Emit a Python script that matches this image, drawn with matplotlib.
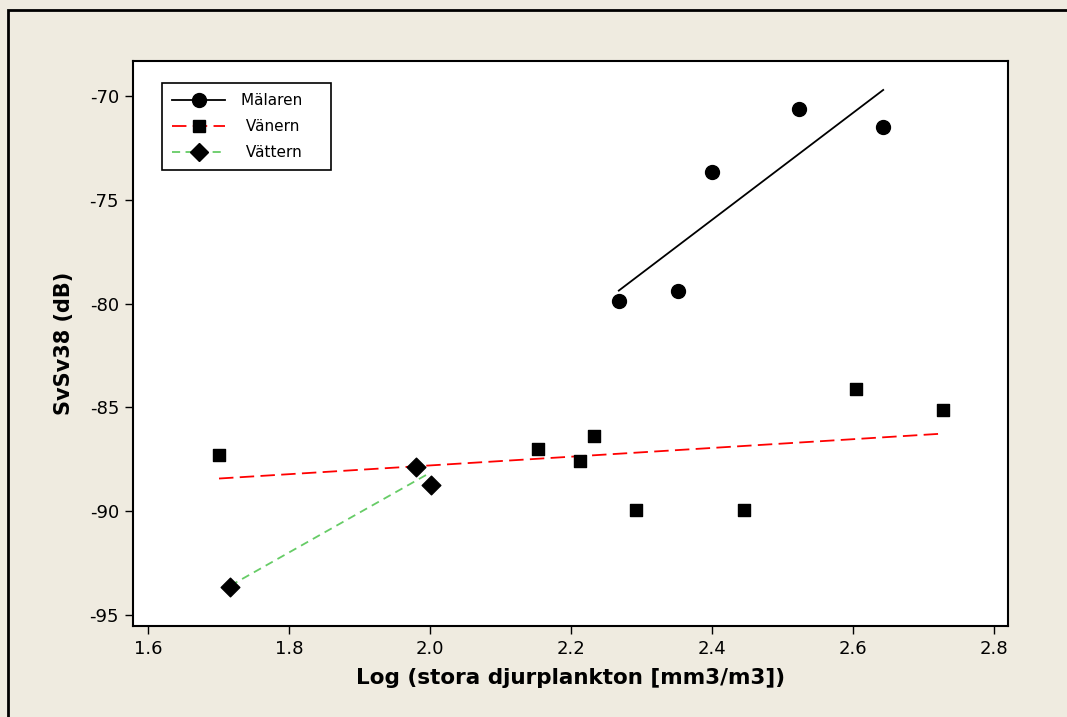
#!/usr/bin/env python3
import numpy as np
import matplotlib
matplotlib.use("Agg")
import matplotlib.pyplot as plt
from matplotlib.patches import Rectangle

# values
malaren_x = [2.268, 2.352, 2.400, 2.524, 2.643]
malaren_y = [-79.86, -79.40, -73.65, -70.60, -71.50]

vanern_x = [1.701, 2.153, 2.213, 2.233, 2.292, 2.446, 2.605, 2.728]
vanern_y = [-87.30, -87.00, -87.60, -86.40, -89.95, -89.95, -84.10, -85.15]

vattern_x = [1.717, 1.981, 2.001]
vattern_y = [-93.65, -87.88, -88.75]

x_ticks = [1.6, 1.8, 2.0, 2.2, 2.4, 2.6, 2.8]
y_ticks = [-95, -90, -85, -80, -75, -70]

BG = "#EFEBE0"

SERIES = [
    ("Mälaren    ", malaren_x, malaren_y, "o", 10, "black", "-"),
    (" Vänern    ", vanern_x, vanern_y, "s", 8.5, "#FF0000", (0, (8, 3.5))),
    (" Vättern   ", vattern_x, vattern_y, "D", 9.5, "#66CC66", (0, (4.5, 3))),
]

plt.rcParams["axes.unicode_minus"] = False


def fit_line(xs, ys):
    xs = np.asarray(xs)
    k, m = np.polyfit(xs, ys, 1)
    xx = np.array([xs.min(), xs.max()])
    return xx, k * xx + m


def main():
    fig = plt.figure(figsize=(10.67, 7.17), dpi=100, facecolor=BG)
    fig.patches.append(Rectangle((8 / 1067, -0.1), 1.2, 1.1 - 10 / 717,
                                 transform=fig.transFigure, fill=False,
                                 edgecolor="black", linewidth=2, zorder=0))
    ax = fig.add_axes([133 / 1067, 1 - 626 / 717, 875 / 1067, 565 / 717])
    ax.set_facecolor("white")

    handles = []
    for label, xs, ys, marker, ms, color, ls in SERIES:
        ax.scatter(xs, ys, marker=marker, s=ms ** 2, color="black", zorder=3)
        fx, fy = fit_line(xs, ys)
        ax.plot(fx, fy, color=color, linestyle=ls, linewidth=1.3, zorder=2)
        h, = ax.plot([], [], color=color, linestyle=ls, linewidth=1.3,
                     marker=marker, markersize=ms, markerfacecolor="black",
                     markeredgecolor="black", label=label)
        handles.append(h)

    ax.set_xlim(1.579, 2.82)
    ax.set_ylim(-95.55, -68.3)
    ax.set_xticks(x_ticks)
    ax.set_xticklabels([f"{v:.1f}" for v in x_ticks])
    ax.set_yticks(y_ticks)
    ax.tick_params(direction="out", length=6, width=1, labelsize=13,
                   colors="black", pad=4)
    for sp in ax.spines.values():
        sp.set_linewidth(1.5)
        sp.set_color("black")

    ax.set_xlabel("Log (stora djurplankton [mm3/m3])", fontsize=15.5,
                  fontweight="bold", labelpad=7)
    ax.set_ylabel("SvSv38 (dB)", fontsize=15, fontweight="bold", labelpad=11)

    leg = ax.legend(handles=handles, loc="upper left",
                    bbox_to_anchor=(0.033, 0.961), borderaxespad=0,
                    fontsize=11, handlelength=3.5, handletextpad=1.0,
                    labelspacing=0.72, borderpad=0.65, fancybox=False,
                    framealpha=1, edgecolor="black")
    leg.get_frame().set_linewidth(1.2)

    fig.savefig("out.png", dpi=100, facecolor=BG)
    plt.close(fig)


if __name__ == "__main__":
    main()
